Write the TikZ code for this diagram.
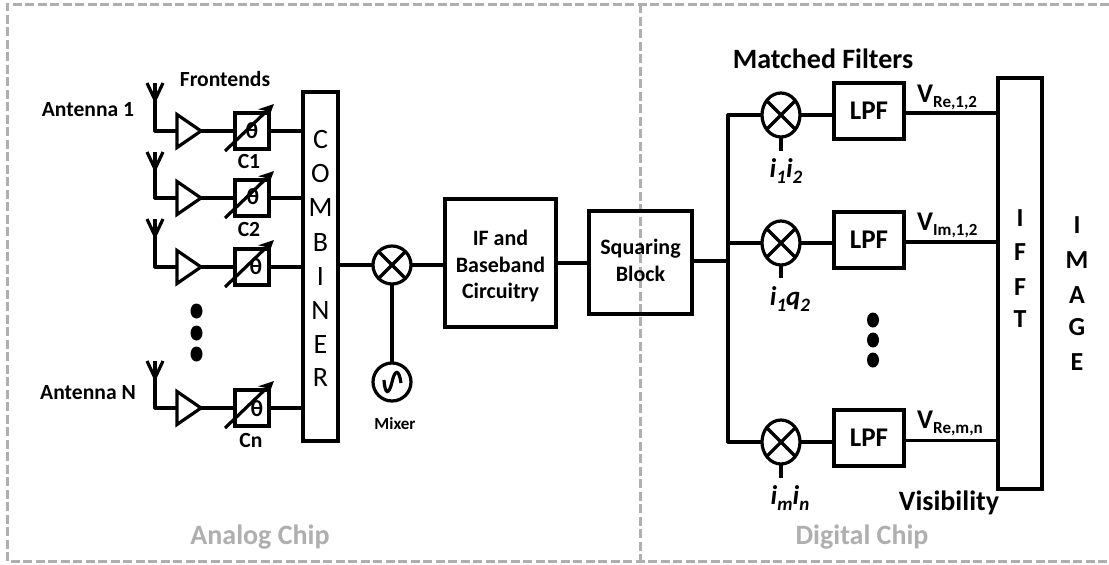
\documentclass[tikz,border=0pt]{standalone}
\usepackage{fontspec}
\setmainfont{Carlito}
\usetikzlibrary{shapes.geometric,arrows.meta}
\definecolor{frameGray}{RGB}{175,175,175}
\tikzset{
  wire/.style={line width=3.2pt,line join=miter,line cap=butt},
  blockbox/.style={draw,line width=3.2pt,inner sep=0pt,outer sep=0pt},
  blocktext/.style={inner sep=0pt,font=\bfseries\fontsize{22}{26.5}\selectfont,align=center},
  amp/.style={draw,line width=3.2pt,isosceles triangle,isosceles triangle stretches,minimum width=33pt,minimum height=24pt,inner sep=0pt,outer sep=0pt,anchor=lower side},
  phasebox/.style={draw,line width=3.2pt,minimum width=34pt,minimum height=36pt,inner sep=0pt,outer sep=0pt},
  thetalab/.style={inner sep=0pt,font=\bfseries\fontsize{23}{25}\selectfont},
  mixnode/.style={draw,line width=3.2pt,ellipse,minimum width=38pt,minimum height=44pt,inner sep=0pt,outer sep=0pt},
  lab/.style={inner sep=0pt,font=\bfseries\fontsize{21.6}{24}\selectfont},
  biglab/.style={inner sep=0pt,font=\bfseries\fontsize{28}{30}\selectfont},
  graylab/.style={inner sep=0pt,text=frameGray,font=\bfseries\fontsize{28}{30}\selectfont},
  letterlab/.style={inner sep=0pt,font=\fontsize{28}{30}\selectfont},
  boldletter/.style={inner sep=0pt,font=\bfseries\fontsize{26}{28}\selectfont},
  vlab/.style={inner sep=0pt,anchor=base west,font=\bfseries\fontsize{27}{29}\selectfont},
  ilab/.style={inner sep=0pt,font=\bfseries\itshape\fontsize{27}{29}\selectfont},
  frame/.style={draw=frameGray,line width=3pt,dash pattern=on 9pt off 3.5pt},
  dotmark/.style={draw=none,fill=black,ellipse,minimum width=12pt,minimum height=15pt,inner sep=0pt}
}
\newcommand{\subt}[1]{\raisebox{-0.22em}{\fontsize{17}{18}\selectfont #1}}
\newcommand{\isub}[1]{\raisebox{-0.22em}{\fontsize{19}{20}\selectfont #1}}
\begin{document}
\begin{tikzpicture}[x=1pt,y=-1pt]
\useasboundingbox (0,0) rectangle (1109,565);
\fill[white] (0,0) rectangle (1109,565);
% frames (the right-hand side is open in the reference)
\coordinate (fTR) at (1109,4);
\coordinate (fTL) at (7,4);
\coordinate (fBL) at (7,561);
\coordinate (fBR) at (1109,561);
\coordinate (dT) at (640,4);
\coordinate (dB) at (640,561);
\draw[frame] (fTR) -- (fTL) -- (fBL) -- (fBR);
\draw[frame] (dT) -- (dB);
\node[graylab] (analog) at (260,537) {Analog Chip};
\node[graylab] (digital) at (862,537) {Digital Chip};
% combiner
\node[blockbox,minimum width=35pt,minimum height=349pt] (comb) at (320.5,266.5) {};
\foreach \l/\y in {C/140,O/174,M/208,B/243,I/277,N/311,E/345,R/378}
  \node[letterlab] (comb\l) at (320.5,\y) {\l};
% front-end rows
\foreach \r/\y/\t/\tx/\ty in {1/131/83/252/131,2/198/152/253/197,3/267/219/256/267,4/408/361/257/409}{
  \coordinate (stem\r) at (155,\t);
  \coordinate (fork\r) at (155,\t+17);
  \coordinate (forkL\r) at (147,\t);
  \coordinate (forkR\r) at (163,\t);
  \coordinate (bend\r) at (155,\y);
  \node[amp] (amp\r) at (177,\y) {};
  \node[phasebox] (ph\r) at (252,\y) {};
  \node[thetalab] (th\r) at (\tx,\ty) {θ};
  \coordinate (arrS\r) at (225,\y+20);
  \coordinate (arrE\r) at (274,\y-27);
  \coordinate (combIn\r) at (comb.west |- ph\r.east);
  \draw[wire,line join=round] (stem\r) -- (bend\r) -- (amp\r.lower side);
  \draw[wire] (forkL\r) -- (fork\r) -- (forkR\r);
  \draw[wire] (amp\r.apex) -- (ph\r.west);
  \draw[wire] (ph\r.east) -- (combIn\r);
  \draw[line width=3.2pt,-{Stealth[length=15pt,width=14pt]}] (arrS\r) -- (arrE\r);
}
\node[lab] (a1) at (88,110) {Antenna 1};
\node[lab] (an) at (88,393) {Antenna N};
\node[lab] (fe) at (225,79) {Frontends};
\node[lab] (c1) at (249,161) {C1};
\node[lab] (c2) at (249,229) {C2};
\node[lab] (cn) at (251,440) {Cn};
\node[dotmark] (dl1) at (196.5,311) {};
\node[dotmark] (dl2) at (196.5,333) {};
\node[dotmark] (dl3) at (196.5,354) {};
% mixer and oscillator
\node[mixnode,minimum width=38pt,minimum height=38pt] (mx) at (392,265) {};
\draw[line width=3.2pt] (mx.45) -- (mx.225) (mx.135) -- (mx.315);
\node[draw,line width=3.2pt,circle,minimum size=38pt,inner sep=0pt,outer sep=0pt] (osc) at (392,382) {};
\draw[line width=3.2pt] ([xshift=-8pt,yshift=2pt]osc.center) .. controls ([xshift=-7pt,yshift=-13pt]osc.center) and ([xshift=-3pt,yshift=-13pt]osc.center) .. (osc.center) .. controls ([xshift=3pt,yshift=13pt]osc.center) and ([xshift=7pt,yshift=13pt]osc.center) .. ([xshift=9pt,yshift=-1pt]osc.center);
\node[inner sep=0pt,font=\bfseries\fontsize{17}{19}\selectfont] (mixlab) at (395,424) {Mixer};
\coordinate (combOut) at (comb.east |- mx.west);
\draw[wire] (combOut) -- (mx.west);
\draw[wire] (mx.south) -- (osc.north);
% IF and squaring
\node[blockbox,minimum width=111pt,minimum height=128pt] (ifb) at (500.5,263) {};
\node[blocktext] (ifbt) at (500.5,266.5) {IF and\\Baseband\\Circuitry};
\node[blockbox,minimum width=103pt,minimum height=103pt] (sq) at (640.5,262.5) {};
\node[blocktext] (sqt) at (640.5,260.5) {Squaring\\Block};
\draw[wire] (mx.east) -- (ifb.west |- mx.east);
\draw[wire] (ifb.east) -- (sq.west |- ifb.east);
% bus
\coordinate (busTop) at (728,115);
\coordinate (busMid) at (728,261);
\coordinate (busBot) at (728,442);
\draw[wire] (sq.east |- busMid) -- (busMid);
% IFFT
\node[blockbox,minimum width=44pt,minimum height=411pt] (ifft) at (1020,283.5) {};
\foreach \l/\n/\y in {I/a/218,F/b/252,F/c/287,T/d/319}
  \node[boldletter] (ifft\n) at (1020,\y) {\l};
\foreach \l/\n/\y in {I/a/225,M/b/260,A/c/295,G/d/327,E/e/362}
  \node[boldletter] (img\n) at (1077,\y) {\l};
% matched filter rows
\foreach \r/\y/\ly/\sb/\oy in {1/115/111/151/113,2/243/240/278/242,3/442/438/478/440.5}{
  \node[mixnode] (fm\r) at (781,\y) {};
  \draw[line width=3.2pt] (fm\r.45) -- (fm\r.225) (fm\r.135) -- (fm\r.315);
  \node[blockbox,minimum width=70pt,minimum height=56pt,font=\bfseries\fontsize{27}{29}\selectfont] (lpf\r) at (869,\ly) {LPF};
  \coordinate (stub\r) at (781,\sb);
  \coordinate (bus\r) at (728,\y);
  \coordinate (out\r) at (904,\oy);
  \draw[wire] (fm\r.south) -- (stub\r);
  \draw[wire] (fm\r.east) -- (lpf\r.west |- fm\r.east);
  \draw[wire] (lpf\r.east |- out\r) -- (ifft.west |- out\r);
}
\draw[wire,line join=round] (fm1.west) -- (bus1) -- (busBot) -- (fm3.west);
\draw[wire] (bus2) -- (fm2.west);
\node[vlab] (v1) at (917,102) {V\subt{Re,1,2}};
\node[vlab] (v2) at (917,230) {V\subt{Im,1,2}};
\node[vlab] (v3) at (917,428) {V\subt{Re,m,n}};
\node[ilab] (i1) at (786,171) {i\isub{1}i\isub{2}};
\node[ilab] (i2) at (790,299) {i\isub{1}q\isub{2}};
\node[ilab] (i3) at (790,498) {i\isub{m}i\isub{n}};
\node[biglab] (mf) at (823,59) {Matched Filters};
\node[biglab] (vis) at (949,503) {Visibility};
\node[dotmark] (dr1) at (873,320) {};
\node[dotmark] (dr2) at (873,340) {};
\node[dotmark] (dr3) at (873,360) {};
\end{tikzpicture}
\end{document}
